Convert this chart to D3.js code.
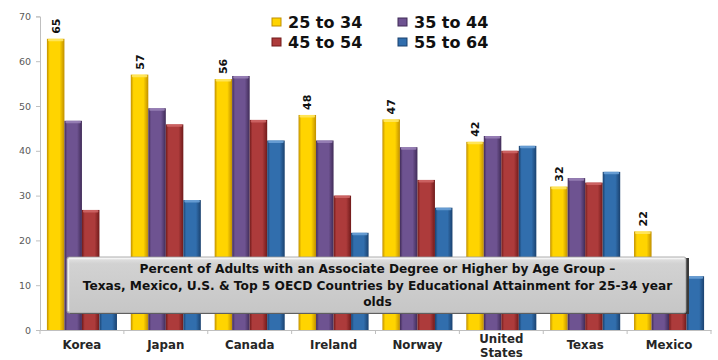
<!DOCTYPE html>
<html>
<head>
<meta charset="utf-8">
<script src="https://cdn.jsdelivr.net/npm/d3@7"></script>
<style>
  html, body { margin: 0; padding: 0; background: #fff; }
  svg { display: block; }
</style>
</head>
<body>
<svg id="chart" width="718" height="360"></svg>
<script>
// Countries shown along the x axis
const categories = ["Korea", "Japan", "Canada", "Ireland", "Norway", "United States", "Texas", "Mexico"];
// Age groups (legend order)
const groups = ["25 to 34", "35 to 44", "45 to 54", "55 to 64"];
// Percent of adults with an associate degree or higher, per age group
const age25to34 = [65, 57, 56, 48, 47, 42, 32, 22];
const age35to44 = [46.7, 49.5, 56.7, 42.3, 40.8, 43.3, 33.9, 14];
const age45to54 = [26.8, 45.9, 46.9, 30, 33.5, 40, 32.9, 13];
const age55to64 = [13, 29, 42.3, 21.7, 27.3, 41.1, 35.3, 12];
const yTicks = [0, 10, 20, 30, 40, 50, 60, 70];
const boxLines = [
  "Percent of Adults with an Associate Degree or Higher by Age Group \u2013",
  "Texas, Mexico, U.S. & Top 5 OECD Countries by Educational Attainment for 25-34 year",
  "olds"
];

const seriesValues = [age25to34, age35to44, age45to54, age55to64];
const palette = [
  { mid: "#ffd400", edge: "#c08f00", cap: "#ffe866" },
  { mid: "#6e5391", edge: "#402b57", cap: "#9b84b8" },
  { mid: "#ad3b3b", edge: "#701a1a", cap: "#d06868" },
  { mid: "#316ead", edge: "#1a416e", cap: "#6fa3d8" }
];

const svg = d3.select("#chart");
const defs = svg.append("defs");
palette.forEach((c, i) => {
  const g = defs.append("linearGradient").attr("id", "bar" + i)
    .attr("x1", "0").attr("x2", "1").attr("y1", "0").attr("y2", "0");
  g.append("stop").attr("offset", "0%").attr("stop-color", c.edge);
  g.append("stop").attr("offset", "16%").attr("stop-color", c.mid);
  g.append("stop").attr("offset", "72%").attr("stop-color", c.mid);
  g.append("stop").attr("offset", "100%").attr("stop-color", c.edge);
});
const boxGrad = defs.append("linearGradient").attr("id", "boxFill")
  .attr("x1", "0").attr("x2", "0").attr("y1", "0").attr("y2", "1");
boxGrad.append("stop").attr("offset", "0%").attr("stop-color", "#e6e6e6");
boxGrad.append("stop").attr("offset", "12%").attr("stop-color", "#d2d2d2");
boxGrad.append("stop").attr("offset", "100%").attr("stop-color", "#c6c6c6");

const x0 = d3.scaleBand().domain(categories).range([40, 711])
  .paddingInner(0.165).paddingOuter(0.0825);
const x1 = d3.scaleBand().domain(groups).range([0, x0.bandwidth()]);
const y = d3.scaleLinear().domain([0, 70]).range([330, 16.4]);

// y axis
const yAxis = svg.append("g").attr("transform", "translate(40,0)")
  .call(d3.axisLeft(y).tickValues(yTicks).tickSize(4).tickPadding(5).tickFormat(d3.format("d")));
yAxis.select(".domain").attr("stroke", "#bfbfbf");
yAxis.selectAll(".tick line").attr("stroke", "#bfbfbf");
yAxis.selectAll(".tick text").attr("fill", "#595959")
  .style("font-family", "'DejaVu Sans', Verdana, sans-serif").style("font-size", "9.5px");

// x axis baseline with category separators
const xAxis = svg.append("g").attr("transform", "translate(0,330)")
  .call(d3.axisBottom(x0).tickSize(0).tickFormat(""));
xAxis.select(".domain").attr("stroke", "#bfbfbf");
const step = x0.step();
svg.append("g").selectAll("line")
  .data(d3.range(categories.length + 1))
  .join("line")
  .attr("x1", i => 40 + i * step).attr("x2", i => 40 + i * step)
  .attr("y1", 330).attr("y2", 334)
  .attr("stroke", "#bfbfbf");

// category labels (two-word names wrap onto a second line)
const catText = svg.append("g").selectAll("text")
  .data(categories)
  .join("text")
  .attr("x", d => x0(d) + x0.bandwidth() / 2)
  .attr("y", d => d.includes(" ") ? 343 : 349)
  .attr("text-anchor", "middle")
  .attr("fill", "#262626")
  .style("font-family", "'DejaVu Sans', Verdana, sans-serif")
  .style("font-size", "11.8px")
  .style("font-weight", "bold");
catText.each(function (d) {
  const words = d.split(" ");
  const t = d3.select(this);
  words.forEach((w, i) => {
    t.append("tspan").attr("x", x0(d) + x0.bandwidth() / 2)
      .attr("dy", i === 0 ? 0 : 14).text(w);
  });
});

// bars
const barRows = categories.map((c, ci) => ({ c, vals: seriesValues.map((s, si) => ({ g: groups[si], si, v: s[ci] })) }));
const cat = svg.append("g").selectAll("g")
  .data(barRows)
  .join("g")
  .attr("transform", d => `translate(${x0(d.c)},0)`);
cat.selectAll("rect.bar")
  .data(d => d.vals)
  .join("rect")
  .attr("class", "bar")
  .attr("x", d => x1(d.g))
  .attr("y", d => y(d.v))
  .attr("width", x1.bandwidth())
  .attr("height", d => y(0) - y(d.v))
  .attr("fill", d => `url(#bar${d.si})`);
cat.selectAll("rect.cap")
  .data(d => d.vals)
  .join("rect")
  .attr("class", "cap")
  .attr("x", d => x1(d.g) + 1)
  .attr("y", d => y(d.v))
  .attr("width", x1.bandwidth() - 2)
  .attr("height", 2.5)
  .attr("rx", 1)
  .attr("fill", d => palette[d.si].cap)
  .attr("opacity", 0.85);

// value labels above the 25 to 34 bars
svg.append("g").selectAll("text")
  .data(categories.map((c, i) => ({ c, v: age25to34[i] })))
  .join("text")
  .attr("transform", d => `translate(${x0(d.c) + x1(groups[0]) + x1.bandwidth() / 2 + 4},${y(d.v) - 5}) rotate(-90)`)
  .attr("text-anchor", "start")
  .attr("fill", "#111")
  .style("font-family", "'DejaVu Sans', Verdana, sans-serif")
  .style("font-size", "11px")
  .style("font-weight", "bold")
  .text(d => d3.format("d")(Math.round(d.v)));

// legend
const legendPos = [[272, 28], [398, 28], [272, 48], [398, 48]];
const legend = svg.append("g").selectAll("g")
  .data(groups)
  .join("g")
  .attr("transform", (d, i) => `translate(${legendPos[i][0]},${legendPos[i][1]})`);
legend.append("rect")
  .attr("x", 0).attr("y", -10).attr("width", 9).attr("height", 8)
  .attr("fill", (d, i) => palette[i].mid)
  .attr("stroke", (d, i) => palette[i].edge).attr("stroke-width", 1);
legend.append("text")
  .attr("x", 16).attr("y", 0)
  .attr("fill", "#111")
  .style("font-family", "'DejaVu Sans', Verdana, sans-serif")
  .style("font-size", "16px")
  .style("font-weight", "bold")
  .text(d => d);

// caption box overlaid on the lower part of the plot
const box = svg.append("g");
const bx = 67, by = 257, bw = 619, bh = 56;
box.append("rect").attr("x", bx + 3).attr("y", by + 1).attr("width", bw).attr("height", bh)
  .attr("fill", "#3a3a3a");
box.append("rect").attr("x", bx).attr("y", by).attr("width", bw).attr("height", bh)
  .attr("rx", 2).attr("fill", "url(#boxFill)").attr("stroke", "#9a9a9a").attr("stroke-width", 0.8);
box.append("line").attr("x1", bx + 2).attr("x2", bx + bw - 2).attr("y1", by + 1.5).attr("y2", by + 1.5)
  .attr("stroke", "#f4f4f4").attr("stroke-width", 1.5);
box.append("line").attr("x1", bx + 1.5).attr("x2", bx + 1.5).attr("y1", by + 2).attr("y2", by + bh - 2)
  .attr("stroke", "#efefef").attr("stroke-width", 1.5);
box.append("g").selectAll("text")
  .data(boxLines)
  .join("text")
  .attr("x", bx + bw / 2 + 1)
  .attr("y", (d, i) => 273 + i * 16.5)
  .attr("text-anchor", "middle")
  .attr("fill", "#111")
  .style("font-family", "'DejaVu Sans', Verdana, sans-serif")
  .style("font-size", "12.2px")
  .style("font-weight", "bold")
  .text(d => d);
</script>
</body>
</html>
